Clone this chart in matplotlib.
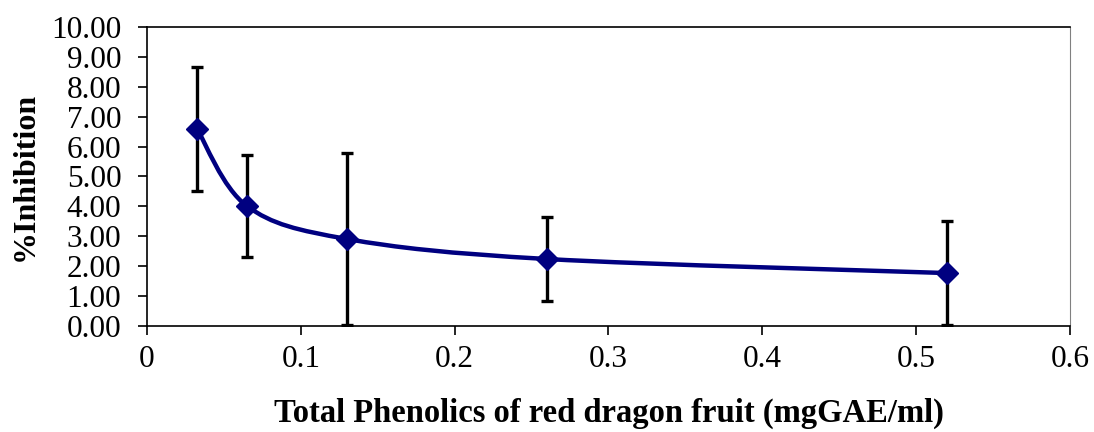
import matplotlib.pyplot as plt
import numpy as np
from matplotlib.path import Path
from matplotlib.patches import PathPatch

plt.rcParams['font.family'] = ['Liberation Serif', 'DejaVu Serif']

# data
conc = [0.0325, 0.065, 0.13, 0.26, 0.52]
inhibition = [6.59, 4.01, 2.91, 2.24, 1.77]
err = [2.07, 1.70, 2.88, 1.42, 1.73]
yticks = [0, 1, 2, 3, 4, 5, 6, 7, 8, 9, 10]
xticks = [0, 0.1, 0.2, 0.3, 0.4, 0.5, 0.6]


def smooth_path(x, y):
    # Catmull-Rom style bezier through the points (like a spreadsheet "smoothed line")
    pts = np.column_stack([x, y])
    verts = [pts[0]]
    codes = [Path.MOVETO]
    n = len(pts)
    for i in range(n - 1):
        p0 = pts[i - 1] if i > 0 else pts[i]
        p1 = pts[i]
        p2 = pts[i + 1]
        p3 = pts[i + 2] if i + 2 < n else pts[i + 1]
        c1 = p1 + (p2 - p0) / 6.0
        c2 = p2 - (p3 - p1) / 6.0
        verts += [c1, c2, p2]
        codes += [Path.CURVE4] * 3
    return Path(verts, codes)


fig = plt.figure(figsize=(10.94, 4.32), dpi=100)
ax = fig.add_axes([0.1344, 0.2454, 0.8436, 0.6921])

ax.errorbar(conc, inhibition, yerr=err, fmt='none', ecolor='black',
            elinewidth=2.4, capsize=4.5, capthick=2.4, zorder=2)
ax.add_patch(PathPatch(smooth_path(conc, inhibition), facecolor='none',
                       edgecolor='#000080', lw=3.2, zorder=3))
ax.plot(conc, inhibition, linestyle='none', marker='D', ms=11.5,
        color='#000080', mec='#000080', zorder=4)

ax.set_xlim(0, 0.6)
ax.set_ylim(0, 10)
ax.set_xticks(xticks)
ax.set_xticklabels(['0', '0.1', '0.2', '0.3', '0.4', '0.5', '0.6'])
ax.set_yticks(yticks)
ax.set_yticklabels(['%.2f' % v for v in yticks])
ax.tick_params(axis='both', direction='out', length=6.5, width=1.2,
               labelsize=22.5, colors='black')
ax.tick_params(axis='x', pad=7)
ax.tick_params(axis='y', pad=12)
ax.spines['right'].set_color('#808080')
for s in ['left', 'bottom', 'top']:
    ax.spines[s].set_linewidth(1.2)

ax.set_ylabel('%Inhibition', fontsize=23, fontweight='bold', labelpad=8)
ax.set_xlabel('Total Phenolics of red dragon fruit (mgGAE/ml)', fontsize=23.5,
              fontweight='bold', labelpad=17)

fig.savefig('out.png', dpi=100)
